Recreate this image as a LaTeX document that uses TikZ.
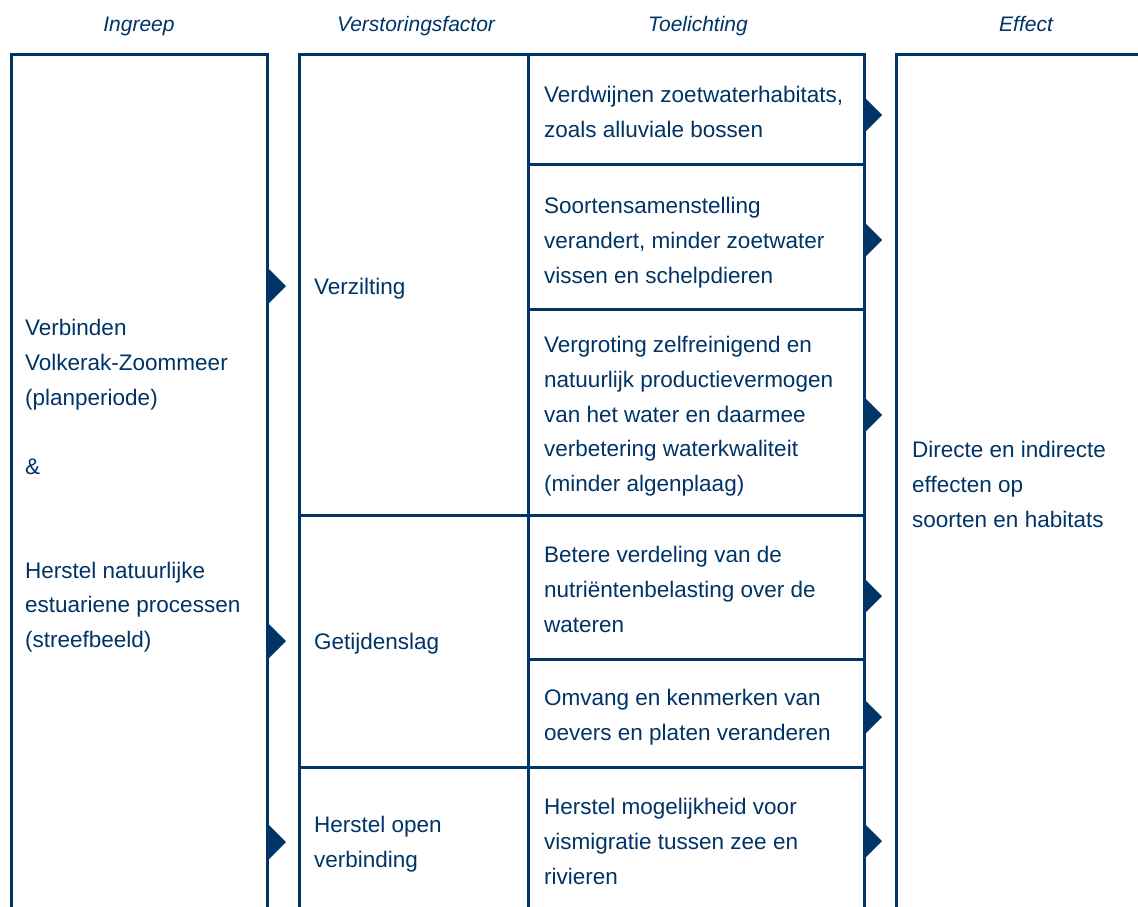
\documentclass[tikz,border=0pt]{standalone}
\usepackage{fontspec}
\setmainfont{Liberation Sans}
\definecolor{navy}{RGB}{0,51,102}
\begin{document}
\begin{tikzpicture}[x=1pt,y=-1pt,
  frame/.style={draw=navy,line width=3pt,line join=miter},
  hdr/.style={font=\fontsize{21}{25}\selectfont\itshape,text=navy,anchor=base,inner sep=0pt},
  txt/.style={font=\fontsize{22.5}{34.6}\selectfont,text=navy,align=left,anchor=north west,inner sep=0pt},
  tri/.style={fill=navy}]
\useasboundingbox (0,0) rectangle (1138,906);

% headers
\node[hdr] (h1) at (139,31) {Ingreep};
\node[hdr] (h2) at (416,31) {Verstoringsfactor};
\node[hdr] (h3) at (698,31) {Toelichting};
\node[hdr] (h4) at (1026,31) {Effect};

% frames
\draw[frame] (11,912) -- (11,54) -- (267,54) -- (267,912);
\draw[frame] (299,912) -- (299,54) -- (864,54) -- (864,912);
\draw[frame] (528,54) -- (528,912);
\draw[frame] (528,164) -- (864,164);
\draw[frame] (528,309) -- (864,309);
\draw[frame] (299,515) -- (864,515);
\draw[frame] (528,659) -- (864,659);
\draw[frame] (299,767) -- (864,767);
\draw[frame] (896,912) -- (896,54) -- (1142,54);

% column 1
\node[txt] (ingreep) at (25,311.5) {\strut Verbinden\\Volkerak-Zoommeer\\(planperiode)\\[34.6pt]\&\\[69.2pt]Herstel natuurlijke\\estuariene processen\\(streefbeeld)};

% column 2
\node[txt] (f1) at (314,270.5) {\strut Verzilting};
\node[txt] (f2) at (314,625.5) {\strut Getijdenslag};
\node[txt] (f3) at (314,808.5) {\strut Herstel open\\verbinding};

% column 3
\node[txt] (t1) at (544,78.5) {\strut Verdwijnen zoetwaterhabitats,\\zoals alluviale bossen};
\node[txt] (t2) at (544,189.5) {\strut Soortensamenstelling\\verandert, minder zoetwater\\vissen en schelpdieren};
\node[txt] (t3) at (544,328.5) {\strut Vergroting zelfreinigend en\\natuurlijk productievermogen\\van het water en daarmee\\verbetering waterkwaliteit\\(minder algenplaag)};
\node[txt] (t4) at (544,538.5) {\strut Betere verdeling van de\\nutriëntenbelasting over de\\wateren};
\node[txt] (t5) at (544,681.5) {\strut Omvang en kenmerken van\\oevers en platen veranderen};
\node[txt] (t6) at (544,790.5) {\strut Herstel mogelijkheid voor\\vismigratie tussen zee en\\rivieren};

% column 4
\node[txt] (eff) at (912,433.5) {\strut Directe en indirecte\\effecten op\\soorten en habitats};

% arrow tips
\coordinate (a1) at (266,286);
\coordinate (a2) at (266,641);
\coordinate (a3) at (266,842);
\foreach \c in {a1,a2,a3}
  \fill[tri] (\c) ++(0,-20) -- ++(20,20) -- ++(-20,20) -- cycle;
\coordinate (b1) at (863,115);
\coordinate (b2) at (863,240);
\coordinate (b3) at (863,415);
\coordinate (b4) at (863,596);
\coordinate (b5) at (863,717);
\coordinate (b6) at (863,841);
\foreach \c in {b1,b2,b3,b4,b5,b6}
  \fill[tri] (\c) ++(0,-19) -- ++(19,19) -- ++(-19,19) -- cycle;
\end{tikzpicture}
\end{document}
